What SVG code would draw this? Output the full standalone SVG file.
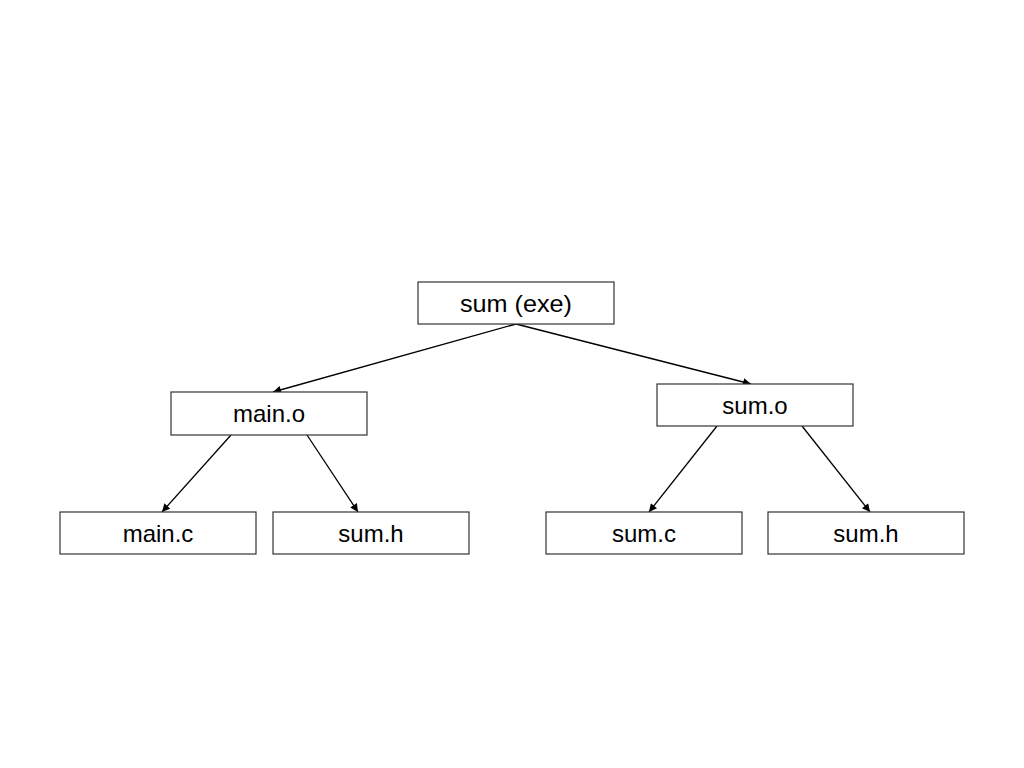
<svg xmlns="http://www.w3.org/2000/svg" width="1024" height="768" viewBox="0 0 1024 768">
<style>
.box{fill:#fff;stroke:#333;stroke-width:1.2}
.lbl{font-family:"Liberation Sans",Arial,sans-serif;font-size:24px;fill:#000;text-anchor:middle;dominant-baseline:central}
.edge{stroke:#000;stroke-width:1.3;fill:none;marker-end:url(#ah)}
</style>
<defs>
<marker id="ah" viewBox="0 0 10 10" refX="10" refY="5" markerWidth="9" markerHeight="8" markerUnits="userSpaceOnUse" orient="auto">
<path d="M0,0 L10,5 L0,10 z" fill="#000"/>
</marker>
</defs>
<rect width="1024" height="768" fill="#fff"/>
<g id="connectors">
<line class="edge" x1="516" y1="324" x2="273" y2="392"/>
<line class="edge" x1="516" y1="324" x2="751" y2="384"/>
<line class="edge" x1="231" y1="435" x2="162" y2="512"/>
<line class="edge" x1="307" y1="435" x2="358" y2="512"/>
<line class="edge" x1="717" y1="426" x2="649" y2="512"/>
<line class="edge" x1="802" y1="426" x2="870" y2="512"/>
</g>
<g id="sum_exe"><rect class="box" x="418" y="282" width="196" height="42"/><text class="lbl" x="516" y="303" textLength="112" lengthAdjust="spacingAndGlyphs">sum (exe)</text></g>
<g id="main_o"><rect class="box" x="171" y="392" width="196" height="43"/><text class="lbl" x="269" y="413.5">main.o</text></g>
<g id="sum_o"><rect class="box" x="657" y="384" width="196" height="42"/><text class="lbl" x="755" y="405">sum.o</text></g>
<g id="main_c"><rect class="box" x="60" y="512" width="196" height="42"/><text class="lbl" x="158" y="533">main.c</text></g>
<g id="sum_h_left"><rect class="box" x="273" y="512" width="196" height="42"/><text class="lbl" x="371" y="533">sum.h</text></g>
<g id="sum_c"><rect class="box" x="546" y="512" width="196" height="42"/><text class="lbl" x="644" y="533">sum.c</text></g>
<g id="sum_h_right"><rect class="box" x="768" y="512" width="196" height="42"/><text class="lbl" x="866" y="533">sum.h</text></g>
</svg>
